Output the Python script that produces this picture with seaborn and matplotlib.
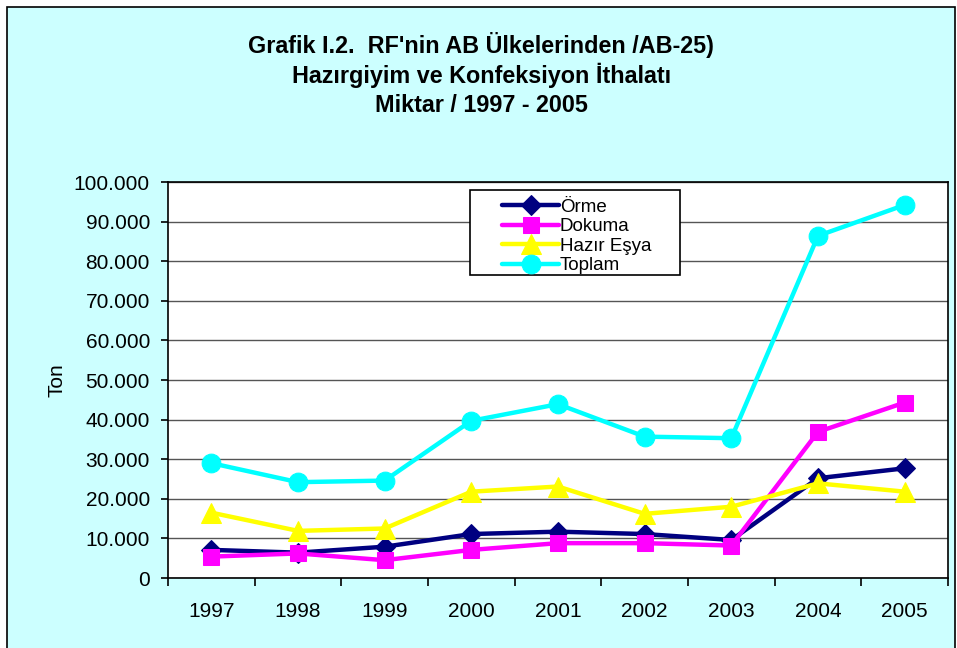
import pandas as pd
import matplotlib.pyplot as plt
import matplotlib.patches as patches
from matplotlib.ticker import FuncFormatter, FixedLocator
import seaborn as sns

years = ['1997', '1998', '1999', '2000', '2001', '2002', '2003', '2004', '2005']
orme = [7100, 6400, 7900, 11100, 11700, 11100, 9600, 25200, 27700]
dokuma = [5400, 6200, 4500, 7100, 8800, 8800, 8200, 36900, 44300]
hazir_esya = [16500, 11900, 12500, 21800, 23100, 16200, 18000, 23900, 21800]
toplam = [29000, 24200, 24600, 39700, 43900, 35700, 35300, 86400, 94200]

series_names = ['Örme', 'Dokuma', 'Hazır Eşya', 'Toplam']
colors = {'Örme': '#000080', 'Dokuma': '#FF00FF', 'Hazır Eşya': '#FFFF00', 'Toplam': '#00FFFF'}
markers = {'Örme': 'D', 'Dokuma': 's', 'Hazır Eşya': '^', 'Toplam': 'o'}
msizes = {'Örme': 10.5, 'Dokuma': 12, 'Hazır Eşya': 14, 'Toplam': 13.5}

rows = []
for name, vals in zip(series_names, [orme, dokuma, hazir_esya, toplam]):
    for i, v in enumerate(vals):
        rows.append({'x': i, 'year': years[i], 'value': v, 'seri': name})
df = pd.DataFrame(rows)

sns.set_style('white')
plt.rcParams['font.family'] = ['Liberation Sans', 'DejaVu Sans']
plt.rcParams['text.color'] = 'black'
plt.rcParams['xtick.color'] = 'black'
plt.rcParams['ytick.color'] = 'black'
plt.rcParams['axes.labelcolor'] = 'black'

fig = plt.figure(figsize=(9.57, 6.48), dpi=100)
fig.patch.set_facecolor('white')
# cyan chart area with black frame
fig.patches.append(patches.Rectangle((7 / 957, -0.01), 948 / 957, 1 - 7 / 648 + 0.01,
                                     transform=fig.transFigure, facecolor='#CCFFFF',
                                     edgecolor='black', linewidth=1.2, zorder=-10))

ax = fig.add_axes([168 / 957, 1 - 578 / 648, 780 / 957, 396 / 648])
ax.set_facecolor('white')

for name in series_names:
    sub = df[df['seri'] == name]
    sns.lineplot(data=sub, x='x', y='value', ax=ax, color=colors[name], marker=markers[name],
                 markersize=msizes[name], markeredgecolor=colors[name], linewidth=3.2,
                 label=name, zorder=3)

ax.set_xlim(-0.5, 8.5)
ax.set_ylim(0, 100000)
ax.set_yticks(range(0, 100001, 10000))
ax.yaxis.set_major_formatter(FuncFormatter(lambda v, p: f'{int(v):,}'.replace(',', '.')))
ax.set_xticks(range(len(years)))
ax.set_xticklabels(years)
ax.xaxis.set_minor_locator(FixedLocator([i - 0.5 for i in range(len(years) + 1)]))
ax.tick_params(axis='x', which='major', length=0, pad=17, labelsize=15)
ax.tick_params(axis='x', which='minor', length=6, width=1.2, direction='out', bottom=True)
ax.tick_params(axis='y', length=5, width=1.2, direction='out', left=True, labelsize=15, pad=8)
ax.grid(axis='y', color='#555555', linewidth=1)
ax.grid(axis='x', visible=False)
for s in ax.spines.values():
    s.set_color('black')
    s.set_linewidth(1.2)
    s.set_visible(True)

ax.set_xlabel('')
ax.set_ylabel('Ton', fontsize=15, labelpad=5)

# legend box drawn separately so it can be wider than its content
ax.add_patch(patches.Rectangle((0.387, 0.765), 0.269, 0.215, transform=ax.transAxes,
                               facecolor='white', edgecolor='black', linewidth=1.2, zorder=4))
leg = ax.legend(loc='upper left', bbox_to_anchor=(0.424, 0.968), fontsize=13.5,
                frameon=False, handlelength=3.0, handletextpad=0.05, labelspacing=0.13,
                borderpad=0.2, borderaxespad=0)
leg.set_zorder(5)

title_lines = ['Grafik I.2.  RF\'nin AB Ülkelerinden /AB-25)',
               'Hazırgiyim ve Konfeksiyon İthalatı',
               'Miktar / 1997 - 2005']
for k, line in enumerate(title_lines):
    fig.text(0.503, 1 - (45 + 30 * k) / 648, line, ha='center', va='center',
             fontsize=16.8, fontweight='bold')

plt.savefig('out.png', dpi=100)
